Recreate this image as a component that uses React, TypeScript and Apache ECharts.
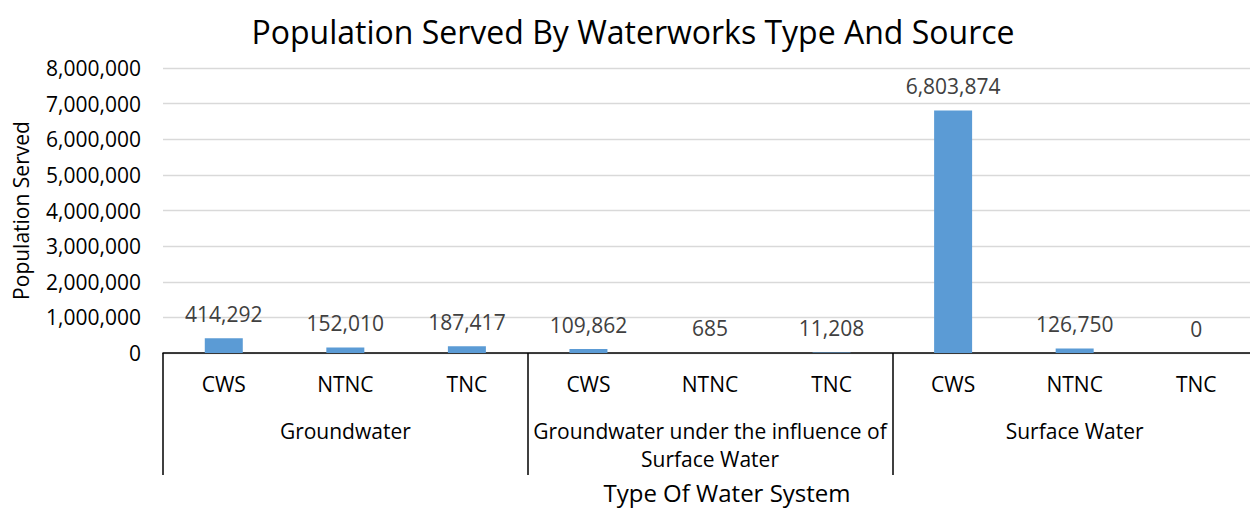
import React, { useEffect, useRef } from "react";
import * as echarts from "echarts";

const groups = ["Groundwater", "Groundwater under the influence of\nSurface Water", "Surface Water"];
const types = ["CWS", "NTNC", "TNC", "CWS", "NTNC", "TNC", "CWS", "NTNC", "TNC"];
const values = [414292, 152010, 187417, 109862, 685, 11208, 6803874, 126750, 0];
const yTicks = { min: 0, max: 8000000, interval: 1000000 };

const FONT = "Open Sans";
const fmt = (v: number) => v.toLocaleString("en-US");

export default function App() {
  const ref = useRef<HTMLDivElement>(null);
  useEffect(() => {
    if (!ref.current) return;
    const chart = echarts.init(ref.current, undefined, { renderer: "svg" });
    chart.setOption({
      animation: false,
      backgroundColor: "#ffffff",
      textStyle: { fontFamily: FONT },
      title: {
        text: "Population Served By Waterworks Type And Source",
        left: 628,
        textAlign: "center",
        top: 10,
        textStyle: { fontFamily: FONT, fontSize: 32, fontWeight: "normal", color: "#000" },
      },
      grid: { left: 163, right: 1, top: 68, height: 285 },
      xAxis: [
        {
          type: "category",
          data: types,
          position: "bottom",
          axisLine: { show: true, lineStyle: { color: "#000", width: 1.5 } },
          axisTick: { show: false },
          axisLabel: { interval: 0, margin: 17, fontFamily: FONT, fontSize: 21, lineHeight: 28, color: "#000" },
        },
        {
          type: "category",
          data: groups,
          position: "bottom",
          offset: 0,
          axisLine: { show: false },
          axisTick: { show: true, length: 122, lineStyle: { color: "#000", width: 1.5 } },
          axisLabel: { interval: 0, margin: 64, fontFamily: FONT, fontSize: 21, lineHeight: 28, color: "#000" },
        },
      ],
      yAxis: {
        type: "value",
        min: yTicks.min,
        max: yTicks.max,
        interval: yTicks.interval,
        name: "Population Served",
        nameLocation: "middle",
        nameRotate: 90,
        nameGap: 132,
        nameTextStyle: { fontFamily: FONT, fontSize: 21, color: "#000" },
        axisLine: { show: false },
        axisTick: { show: false },
        axisLabel: { margin: 22, fontFamily: FONT, fontSize: 21, color: "#000", formatter: (v: number) => fmt(v) },
        splitLine: { lineStyle: { color: "#d9d9d9", width: 1.3 } },
      },
      graphic: [
        {
          type: "text",
          x: 727,
          y: 492,
          style: {
            text: "Type Of Water System",
            fontFamily: FONT,
            fontSize: 24,
            fill: "#000",
            align: "center",
            verticalAlign: "middle",
          },
        },
      ],
      series: [
        {
          type: "bar",
          xAxisIndex: 0,
          data: values,
          barWidth: 38,
          itemStyle: { color: "#5b9bd5" },
          label: {
            show: true,
            position: "top",
            distance: 14,
            fontFamily: FONT,
            fontSize: 21,
            color: "#404040",
            formatter: (p: any) => fmt(p.value),
          },
        },
      ],
    });
    return () => chart.dispose();
  }, []);
  return (
    <div style={{ position: "fixed", left: 0, top: 0, width: 1250, height: 512, overflow: "hidden", background: "#fff" }}>
      <div ref={ref} style={{ width: 1258, height: 512 }} />
    </div>
  );
}
